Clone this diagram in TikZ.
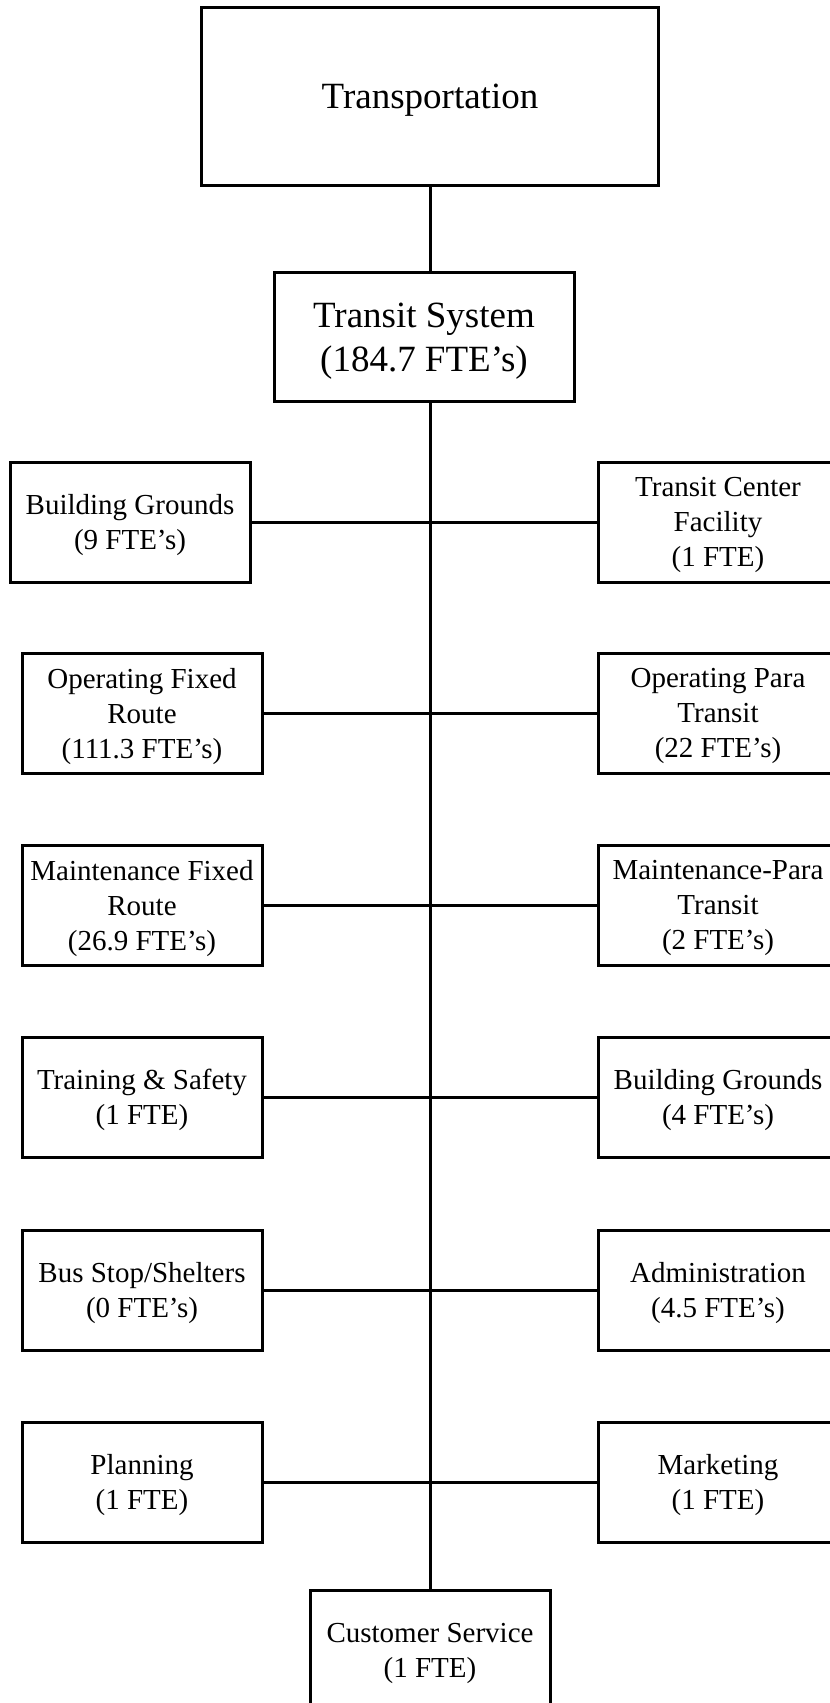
\documentclass[tikz,border=0pt]{standalone}
\usepackage{fontspec}
\setmainfont{Liberation Serif}
\usepackage{tikz}
\usetikzlibrary{positioning}
\tikzset{
  unit/.style  = {draw, line width=3pt, fill=white, align=center, inner sep=2pt,
                  text depth=0pt, minimum width=240pt, minimum height=120pt,
                  font=\fontsize{29}{35}\selectfont},
  head/.style  = {draw, line width=3pt, fill=white, align=center, inner sep=2pt,
                  text depth=0pt, font=\fontsize{37}{44}\selectfont},
  wire/.style  = {line width=3pt},
}

\begin{document}
\begin{tikzpicture}[x=1pt,y=-1pt]
  \useasboundingbox (0,0) rectangle (830,1703);
  \node[head, minimum width=457pt, minimum height=178pt] (trans) at (430,96) {Transportation};
  \node[head, minimum width=300pt, minimum height=129pt] (sys) at (424,337) {Transit System\\(184.7 FTE's)};
  \node[unit] (cust) at (430,1650) {Customer Service\\(1 FTE)};
  \coordinate (spine) at (430,401);
  % left column
  \node[unit] (bg9)   at (130,522)  {Building Grounds\\(9 FTE's)};
  \node[unit] (opfr)  at (142,713)  {Operating Fixed\\Route\\(111.3 FTE's)};
  \node[unit] (mtfr)  at (142,905)  {Maintenance Fixed\\Route\\(26.9 FTE's)};
  \node[unit] (train) at (142,1097) {Training \& Safety\\(1 FTE)};
  \node[unit] (bus)   at (142,1290) {Bus Stop/Shelters\\(0 FTE's)};
  \node[unit] (plan)  at (142,1482) {Planning\\(1 FTE)};
  % right column
  \node[unit] (tcf)   at (718,522)  {Transit Center\\Facility\\(1 FTE)};
  \node[unit] (oppt)  at (718,713)  {Operating Para\\Transit\\(22 FTE's)};
  \node[unit] (mtpt)  at (718,905)  {Maintenance-Para\\Transit\\(2 FTE's)};
  \node[unit] (bg4)   at (718,1097) {Building Grounds\\(4 FTE's)};
  \node[unit] (admin) at (718,1290) {Administration\\(4.5 FTE's)};
  \node[unit] (mkt)   at (718,1482) {Marketing\\(1 FTE)};
  % connectors
  \draw[wire] (trans.south -| spine) -- (sys.north -| spine);
  \draw[wire] (spine) -- (cust.north);
  \foreach \l/\r in {bg9/tcf, opfr/oppt, mtfr/mtpt, train/bg4, bus/admin, plan/mkt}
    \draw[wire] (\l.east) -- (\r.west);
\end{tikzpicture}
\end{document}
